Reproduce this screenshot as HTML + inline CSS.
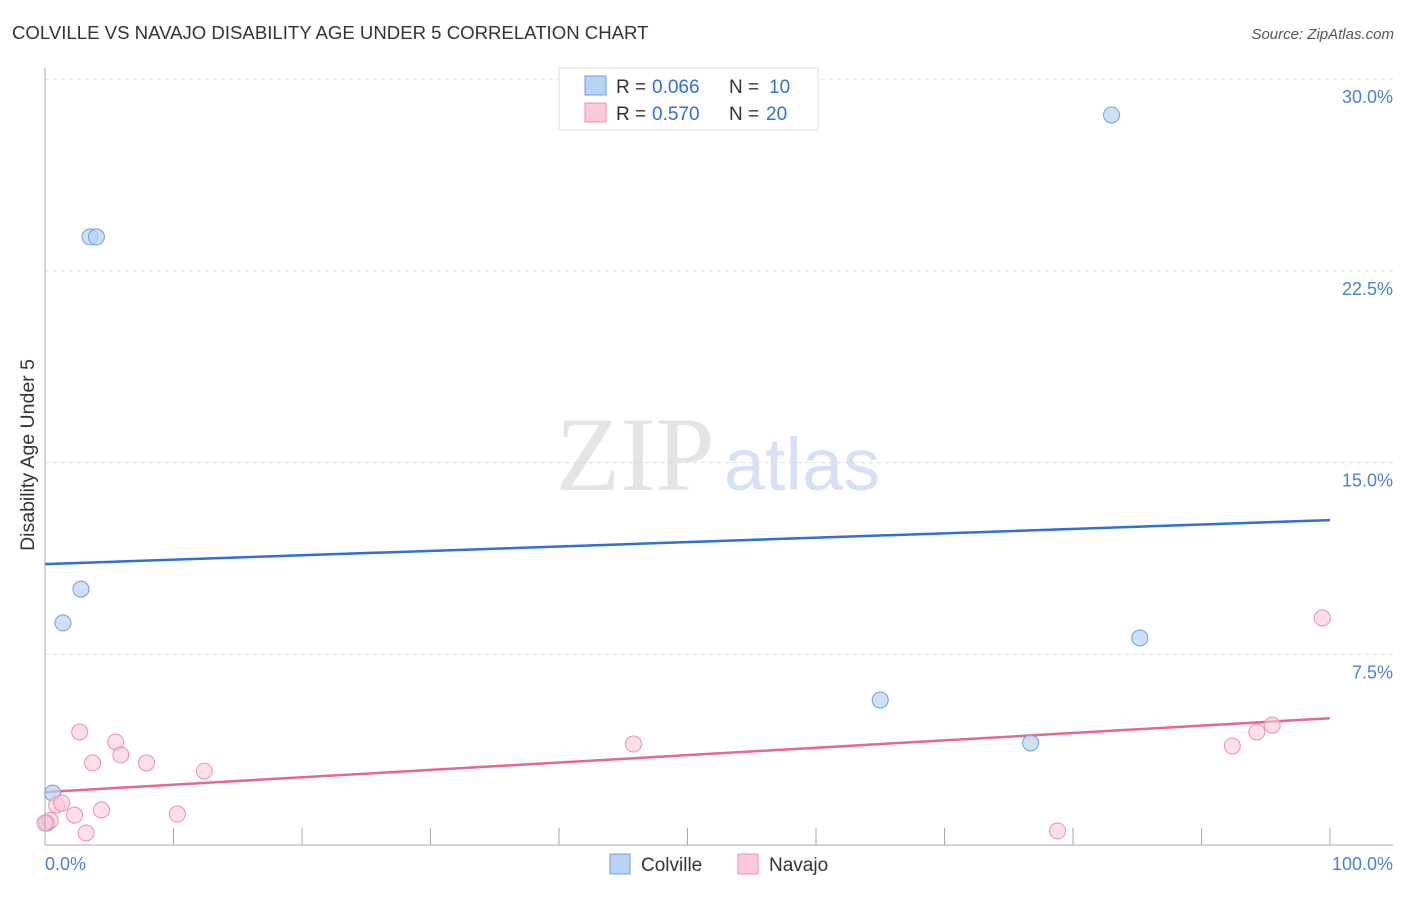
<!DOCTYPE html>
<html><head><meta charset="utf-8"><style>
body{margin:0;background:#fff;font-family:"Liberation Sans",sans-serif;}
</style></head><body>
<svg width="1406" height="892" xmlns="http://www.w3.org/2000/svg" font-family="Liberation Sans, sans-serif">
<text x="12" y="39" font-size="18.6" fill="#333">COLVILLE VS NAVAJO DISABILITY AGE UNDER 5 CORRELATION CHART</text>
<text x="1394" y="39" font-size="15" fill="#555" font-style="italic" text-anchor="end">Source: ZipAtlas.com</text>
<text x="635" y="490" font-size="106" fill="#e4e4e4" font-family="Liberation Serif, serif" text-anchor="middle">ZIP</text>
<text x="802" y="490" font-size="74" fill="#d6e2f3" text-anchor="middle">atlas</text>
<text transform="translate(34,455) rotate(-90)" font-size="19.5" fill="#333" text-anchor="middle">Disability Age Under 5</text>
<g id="grid"></g><g id="trend"></g><g id="pts"></g>
<line x1="45" y1="68" x2="45" y2="845" stroke="#aaa"/>
<line x1="45" y1="845" x2="1393" y2="845" stroke="#aaa"/>
<text x="45" y="870" font-size="18" fill="#4a7fd6">0.0%</text>
<text x="1393" y="870" font-size="18" fill="#4a7fd6" text-anchor="end">100.0%</text>
<g>
<rect x="559" y="68" width="259" height="62" fill="#fff" stroke="#ddd"/>
<rect x="585" y="76" width="21" height="19" fill="#b9d3f5" stroke="#6e9ee0"/>
<rect x="585" y="103" width="21" height="19" fill="#fbc9d7" stroke="#ee8fac"/>
<text x="616" y="93" font-size="19" fill="#333">R = <tspan x="652" fill="#2f6fd6">0.066</tspan><tspan x="729">N = </tspan><tspan x="769" fill="#2f6fd6">10</tspan></text>
<text x="616" y="120" font-size="19" fill="#333">R = <tspan x="652" fill="#2f6fd6">0.570</tspan><tspan x="729">N = </tspan><tspan x="766" fill="#2f6fd6">20</tspan></text>
</g>
<g>
<rect x="610" y="854" width="20" height="20" fill="#b9d3f5" stroke="#6e9ee0"/>
<text x="641" y="871" font-size="19" fill="#333">Colville</text>
<rect x="738" y="854" width="20" height="20" fill="#fbc9d7" stroke="#ee8fac"/>
<text x="769" y="871" font-size="19" fill="#333">Navajo</text>
</g>
</svg>
<script>
const yTicks=[7.5,15,22.5,30];
const yTickLabels=["7.5%","15.0%","22.5%","30.0%"];
const xTicks=[10,20,30,40,50,60,70,80,90,100];
const colvilleX=[3.5,4.0,2.8,1.4,0.6,0.15,83.0,85.2,65.0,76.7];
const colvilleY=[23.83,23.83,10.05,8.73,2.07,0.9,28.6,8.14,5.71,4.03];
const navajoX=[2.7,5.5,3.7,5.9,7.9,12.4,0.9,1.3,2.3,4.4,3.2,10.3,45.8,78.8,92.4,94.3,95.5,99.4,0.4,0];
const navajoY=[4.46,4.07,3.25,3.56,3.25,2.93,1.6,1.68,1.21,1.41,0.51,1.25,3.99,0.59,3.91,4.46,4.73,8.92,1.0,0.9];
const colvilleTrend=[11.03,12.75];
const navajoTrend=[2.11,5.0];
const sx=v=>45+v*12.85, sy=v=>846-v*25.56;
const NS="http://www.w3.org/2000/svg";
function mk(t,a,p){const e=document.createElementNS(NS,t);for(const k in a)e.setAttribute(k,a[k]);p.appendChild(e);return e;}
const grid=document.getElementById('grid');
yTicks.forEach((v,i)=>{
 const l=mk('line',{x1:45,x2:1393,y1:sy(v),y2:sy(v),stroke:'#ddd','stroke-dasharray':'4,4'},grid);
 
 
 const t=mk('text',{x:1393,y:sy(v)+24,'font-size':18,fill:'#4a7fd6','text-anchor':'end'},grid);
 t.textContent=yTickLabels[i];
 
 
});
xTicks.forEach(v=>{
 const l=mk('line',{x1:sx(v),x2:sx(v),y1:828,y2:845,stroke:'#aaa'},grid);
 
 
});
const pts=document.getElementById('pts');
colvilleX.forEach((x,i)=>{
 const c=mk('circle',{cx:sx(x),cy:sy(colvilleY[i]),r:8,fill:'#b9d3f5','fill-opacity':0.7,stroke:'#6e9ee0'},pts);
 
 
});
navajoX.forEach((x,i)=>{
 const c=mk('circle',{cx:sx(x),cy:sy(navajoY[i]),r:8,fill:'#fbc9d7','fill-opacity':0.6,stroke:'#ee8fac'},pts);
 
 
});
const tr=document.getElementById('trend');
const l1=mk('line',{x1:sx(0),x2:sx(100),y1:sy(colvilleTrend[0]),y2:sy(colvilleTrend[1]),stroke:'#2f6fd6','stroke-width':2.5},tr);


const l2=mk('line',{x1:sx(0),x2:sx(100),y1:sy(navajoTrend[0]),y2:sy(navajoTrend[1]),stroke:'#e8678f','stroke-width':2.5},tr);


</script>
</body></html>
